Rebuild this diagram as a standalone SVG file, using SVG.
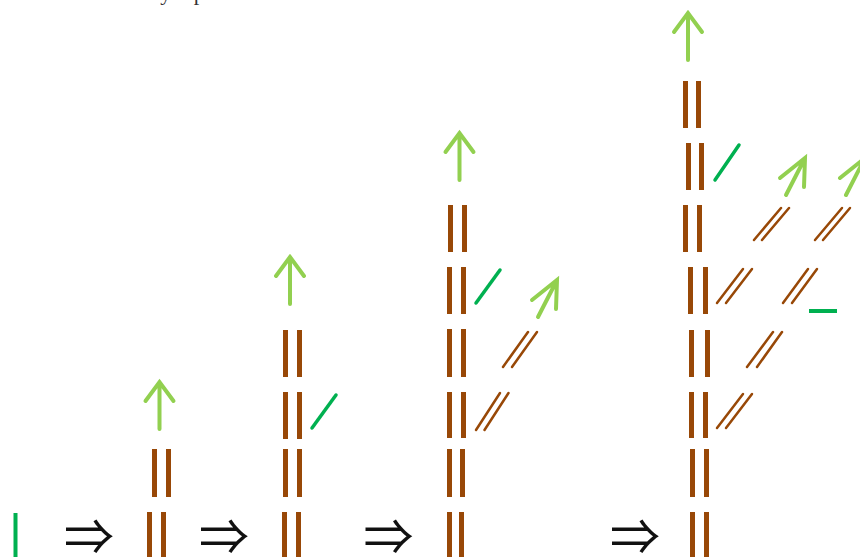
<svg xmlns="http://www.w3.org/2000/svg" width="860" height="557" viewBox="0 0 860 557">
  <style>
    .stem { fill: #984807; }
    .bud { stroke: #00B050; stroke-width: 3.5; stroke-linecap: round; fill: none; }
    .twig { stroke: #984807; stroke-width: 2.5; stroke-linecap: round; fill: none; }
    .grow { stroke: #92D050; stroke-width: 4; stroke-linecap: round; stroke-linejoin: miter; fill: none; }
    .step { font-family: "Noto Sans CJK JP", "DejaVu Sans", sans-serif; font-size: 50px; fill: #111; text-anchor: middle; }
    .caption { font-family: "Liberation Serif", "Times New Roman", serif; font-size: 22px; fill: #333; }
  </style>
  <defs>
    <!-- vertical growth arrow, tip at origin -->
    <path id="up" class="grow" d="M0,47 V0 M-14,19 L0,0 L14,19"/>
    <!-- slanted growth arrow, tip at origin -->
    <path id="upright" class="grow" d="M-19,37 L0,0 M-25,20 L0,0 L-1,29"/>
  </defs>

  <!-- caption line running off the top edge -->
  <text class="caption" x="236" y="0" text-anchor="end">and these rules can arbitrarily repeat.</text>

  <!-- stage 1: a single bud -->
  <g id="stage1">
    <rect x="13.5" y="513" width="4" height="44" fill="#00B050"/>
  </g>

  <!-- stage 2 -->
  <g id="stage2">
    <rect class="stem" x="152" y="449" width="5" height="48"/>
    <rect class="stem" x="166" y="449" width="5" height="48"/>
    <rect class="stem" x="147" y="512" width="5" height="45"/>
    <rect class="stem" x="161" y="512" width="5" height="45"/>
    <use href="#up" x="159.5" y="382"/>
  </g>

  <!-- stage 3 -->
  <g id="stage3">
    <rect class="stem" x="283" y="330" width="5" height="47"/>
    <rect class="stem" x="297" y="330" width="5" height="47"/>
    <rect class="stem" x="283" y="392" width="5" height="47"/>
    <rect class="stem" x="297" y="392" width="5" height="47"/>
    <rect class="stem" x="283" y="449" width="5" height="48"/>
    <rect class="stem" x="297" y="449" width="5" height="48"/>
    <rect class="stem" x="282" y="512" width="5" height="45"/>
    <rect class="stem" x="296" y="512" width="5" height="45"/>
    <line class="bud" x1="312" y1="428" x2="336" y2="395"/>
    <use href="#up" x="290" y="257"/>
  </g>

  <!-- stage 4 -->
  <g id="stage4">
    <rect class="stem" x="448" y="205" width="5" height="47"/>
    <rect class="stem" x="462" y="205" width="5" height="47"/>
    <rect class="stem" x="447" y="267" width="5" height="47"/>
    <rect class="stem" x="461" y="267" width="5" height="47"/>
    <rect class="stem" x="447" y="329" width="5" height="48"/>
    <rect class="stem" x="461" y="329" width="5" height="48"/>
    <rect class="stem" x="447" y="392" width="5" height="46"/>
    <rect class="stem" x="461" y="392" width="5" height="46"/>
    <rect class="stem" x="447" y="449" width="5" height="48"/>
    <rect class="stem" x="460" y="449" width="5" height="48"/>
    <rect class="stem" x="447" y="512" width="5" height="45"/>
    <rect class="stem" x="459" y="512" width="5" height="45"/>
    <line class="bud" x1="476" y1="303" x2="500" y2="270"/>
    <line class="twig" x1="503" y1="367" x2="528" y2="332"/>
    <line class="twig" x1="512" y1="367" x2="537" y2="332"/>
    <line class="twig" x1="476" y1="430" x2="500" y2="393"/>
    <line class="twig" x1="484.5" y1="430" x2="508.5" y2="393"/>
    <use href="#up" x="459.5" y="133"/>
    <use href="#upright" x="557" y="280"/>
  </g>

  <!-- stage 5 -->
  <g id="stage5">
    <rect class="stem" x="683" y="81" width="5" height="47"/>
    <rect class="stem" x="696" y="81" width="5" height="47"/>
    <rect class="stem" x="686" y="143" width="5" height="47"/>
    <rect class="stem" x="699" y="143" width="5" height="47"/>
    <rect class="stem" x="683" y="205" width="5" height="47"/>
    <rect class="stem" x="697" y="205" width="5" height="47"/>
    <rect class="stem" x="688" y="267" width="5" height="47"/>
    <rect class="stem" x="703" y="267" width="5" height="47"/>
    <rect class="stem" x="689" y="330" width="5" height="47"/>
    <rect class="stem" x="705" y="330" width="5" height="47"/>
    <rect class="stem" x="689" y="392" width="5" height="46"/>
    <rect class="stem" x="703" y="392" width="5" height="46"/>
    <rect class="stem" x="690" y="449" width="5" height="48"/>
    <rect class="stem" x="704" y="449" width="5" height="48"/>
    <rect class="stem" x="690" y="512" width="5" height="45"/>
    <rect class="stem" x="704" y="512" width="5" height="45"/>
    <line class="bud" x1="715" y1="180" x2="739" y2="145"/>
    <rect x="809" y="309" width="28" height="4" fill="#00B050"/>
    <line class="twig" x1="754" y1="240" x2="781" y2="208"/>
    <line class="twig" x1="762" y1="240" x2="789" y2="208"/>
    <line class="twig" x1="815" y1="240" x2="842" y2="208"/>
    <line class="twig" x1="823" y1="240" x2="850" y2="208"/>
    <line class="twig" x1="717" y1="303" x2="743" y2="269"/>
    <line class="twig" x1="726" y1="303" x2="752" y2="269"/>
    <line class="twig" x1="783" y1="303" x2="808" y2="269"/>
    <line class="twig" x1="792" y1="303" x2="817" y2="269"/>
    <line class="twig" x1="747" y1="367" x2="773" y2="332"/>
    <line class="twig" x1="757" y1="367" x2="782" y2="332"/>
    <line class="twig" x1="717" y1="428" x2="743" y2="394"/>
    <line class="twig" x1="726" y1="428" x2="752" y2="394"/>
    <use href="#up" x="688" y="13"/>
    <use href="#upright" x="805" y="158"/>
    <use href="#upright" x="865" y="158"/>
  </g>

  <!-- rewrite steps between stages -->
  <g id="connectors">
    <text class="step" x="89" y="555">⇒</text>
    <text class="step" x="224" y="555">⇒</text>
    <text class="step" x="388.5" y="555">⇒</text>
    <text class="step" x="635" y="555">⇒</text>
  </g>
</svg>
